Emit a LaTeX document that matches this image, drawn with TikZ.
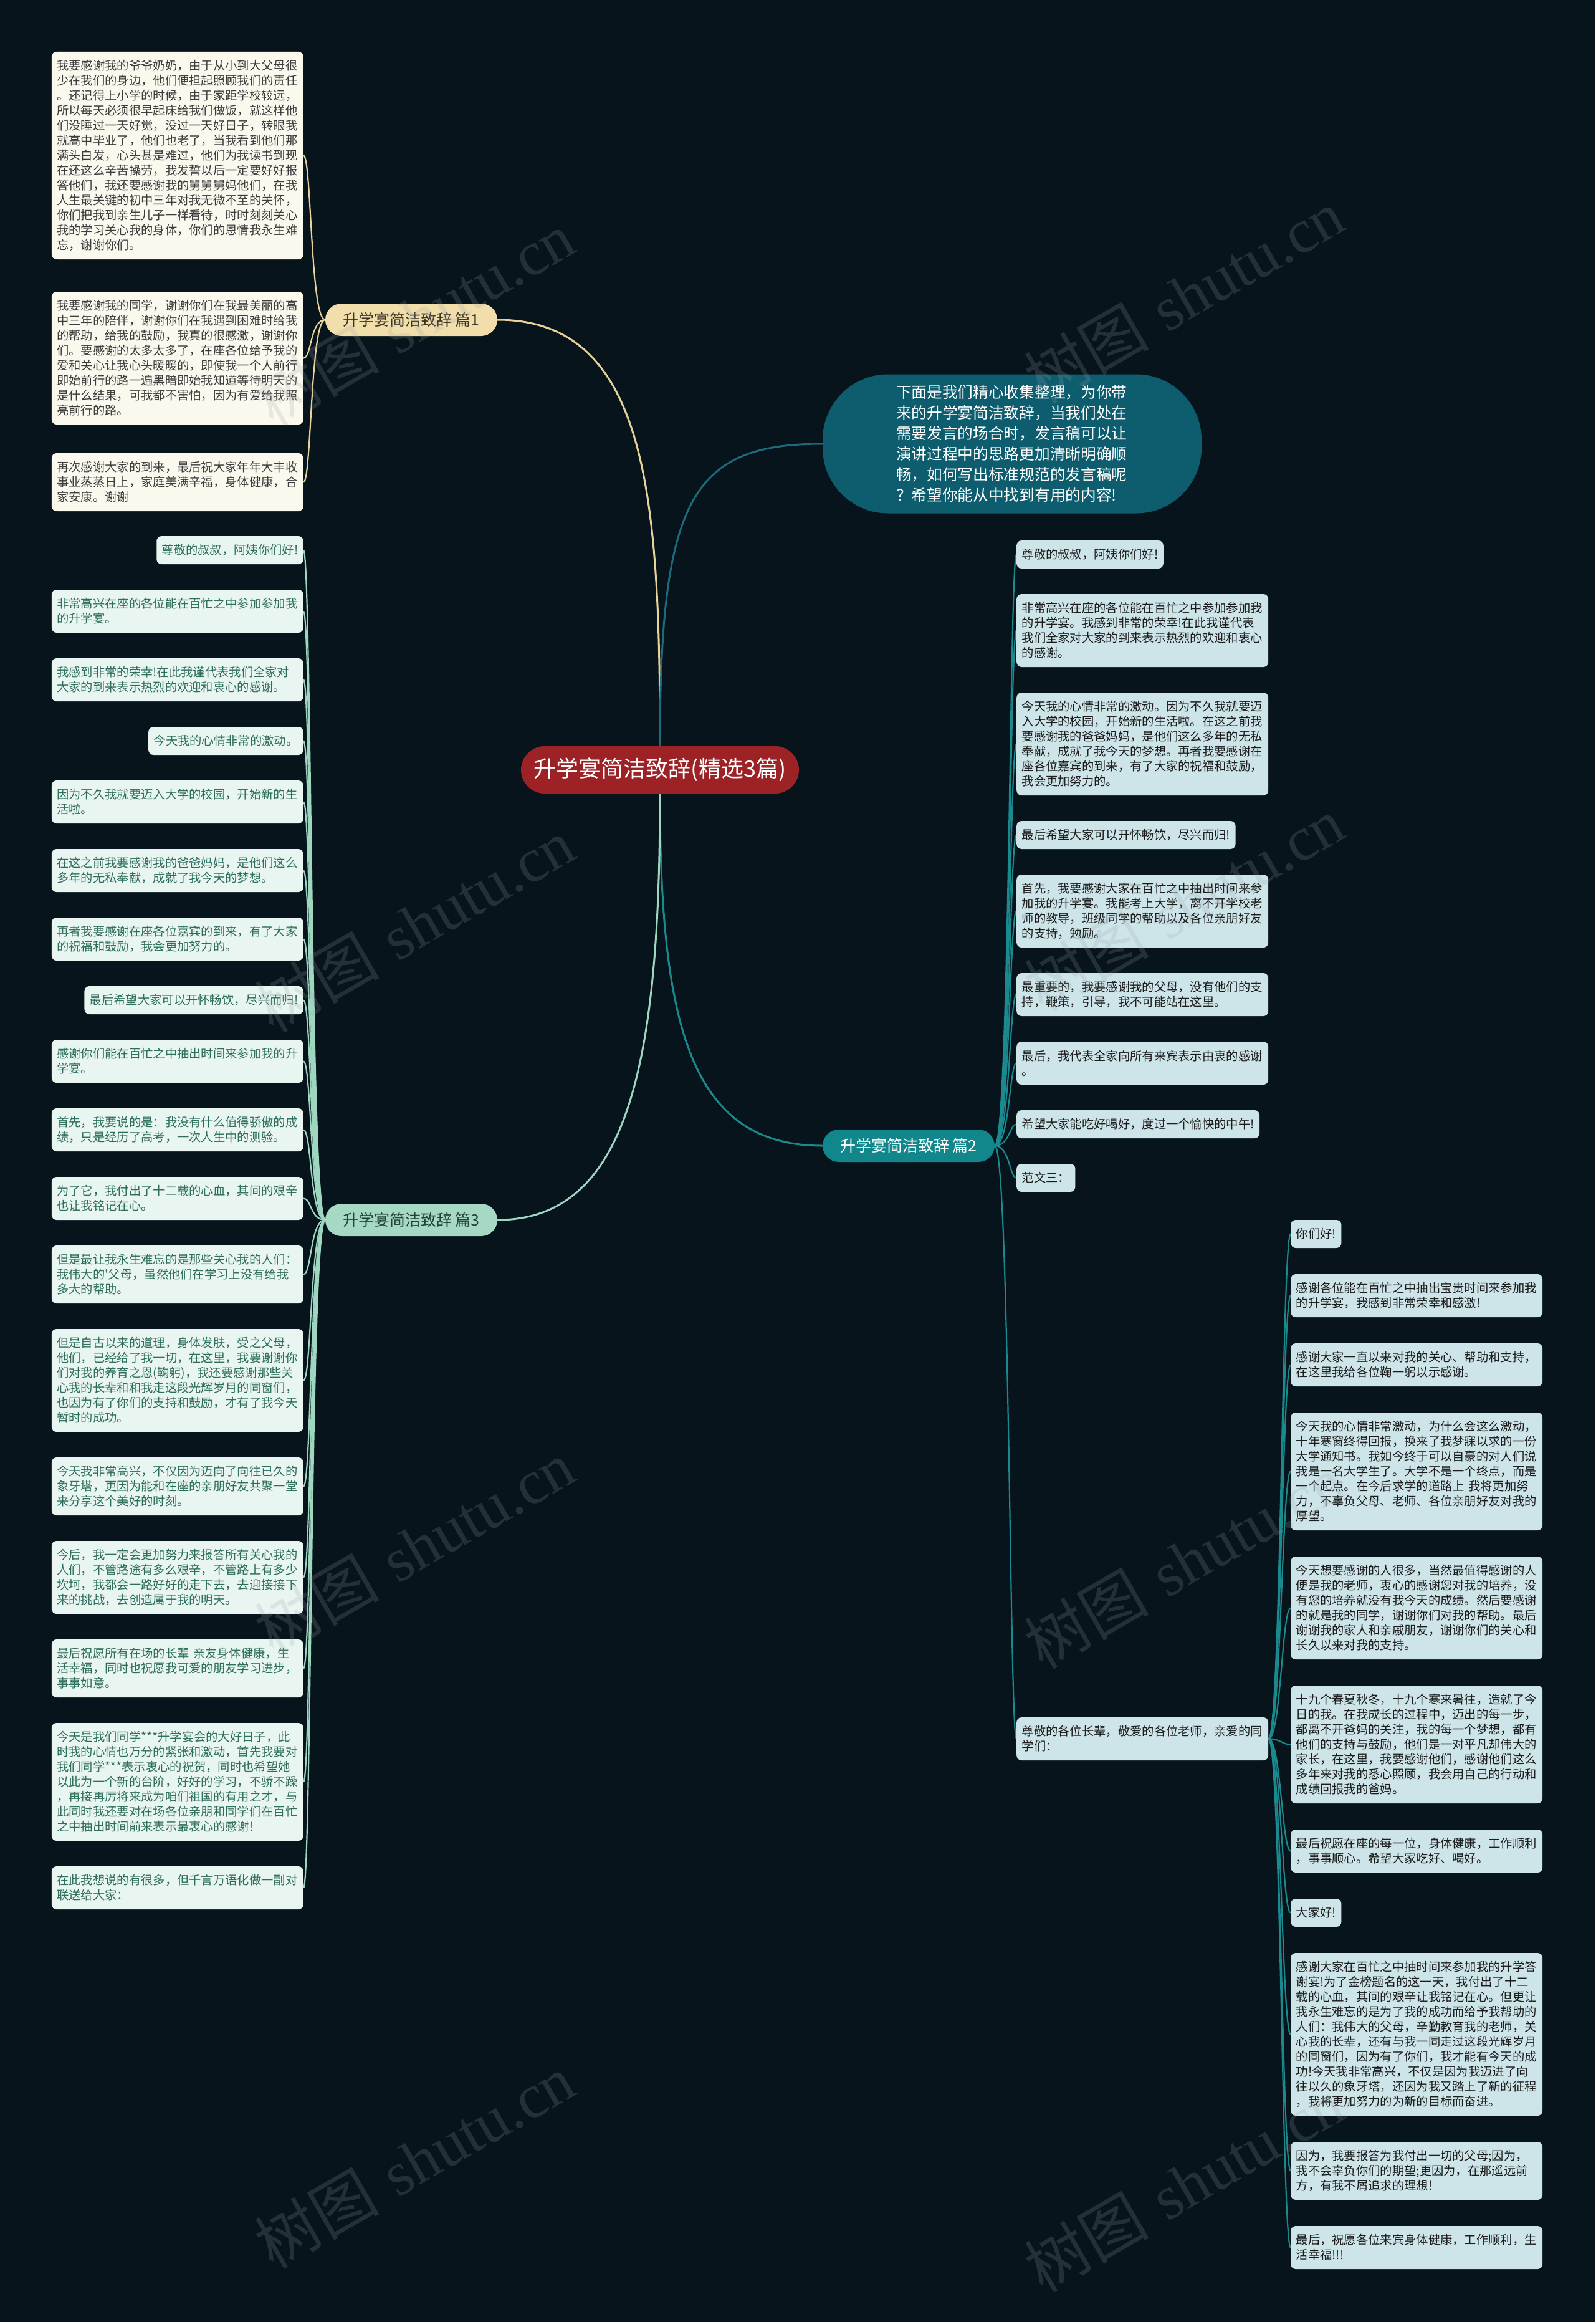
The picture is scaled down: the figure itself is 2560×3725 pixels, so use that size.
\documentclass[tikz,border=0pt]{standalone}
\usepackage{fontspec}
\newfontfamily\cjk{Noto Sans CJK SC}
\newfontfamily\wmserif{Liberation Serif}
\usetikzlibrary{backgrounds}
\definecolor{bgc}{HTML}{07141C}
\definecolor{ctrfill}{HTML}{9C2226}
\definecolor{pAfill}{HTML}{F1DEAA}
\definecolor{pAtext}{HTML}{3B3325}
\definecolor{pBfill}{HTML}{12878B}
\definecolor{pCfill}{HTML}{A5D9C3}
\definecolor{pCtext}{HTML}{23433A}
\definecolor{bubfill}{HTML}{0D5D6F}
\definecolor{fillA}{HTML}{FBF8EE}
\definecolor{textA}{HTML}{3C3C3C}
\definecolor{fillC}{HTML}{E8F5F0}
\definecolor{textC}{HTML}{2E6E5C}
\definecolor{fillB}{HTML}{CDE5E8}
\definecolor{textB}{HTML}{1C1C1C}
\definecolor{lineA}{HTML}{E6D39C}
\definecolor{lineC}{HTML}{9ED6C0}
\definecolor{lineB}{HTML}{1A8A8E}
\definecolor{lineBub}{HTML}{1C6A7A}
\definecolor{wmc}{HTML}{9AA3A8}
\begin{document}
\begin{tikzpicture}[x=1pt,y=-1pt,
  box/.style={rounded corners=8pt, inner xsep=8.5pt, inner ysep=0pt, font=\cjk\fontsize{19.3}{24}\selectfont, align=left},
  wide/.style={text width=387pt},
  nl/.style={minimum height={#1*24pt+21pt}},
  bA/.style={box, fill=fillA, text=textA, anchor=east},
  bC/.style={box, fill=fillC, text=textC, anchor=east},
  bB/.style={box, fill=fillB, text=textB, anchor=west},
  branch/.style={rounded corners=26pt, minimum width=276pt, minimum height=52pt, inner sep=0pt, font=\cjk\fontsize{25}{28}\selectfont},
  cA/.style={draw=lineA, line width=2.2pt},
  cC/.style={draw=lineC, line width=2.2pt},
  cB/.style={draw=lineB, line width=2.2pt},
  wm/.style={rotate=30, text=wmc, opacity=0.2, font=\fontsize{100}{100}\selectfont, inner sep=0pt}
]
\useasboundingbox (0,0) rectangle (2560,3725);

% central and branch nodes
\node[fill=ctrfill, text=white, rounded corners=38pt, minimum width=446pt, minimum height=76pt, inner sep=0pt, font=\cjk\fontsize{36}{40}\selectfont] (ctr) at (1059,1235) {升学宴简洁致辞(精选3篇)};
\node[branch, fill=pAfill, text=pAtext] (p1) at (660,513) {升学宴简洁致辞 篇1};
\node[branch, fill=pBfill, text=white] (p2) at (1458,1838) {升学宴简洁致辞 篇2};
\node[branch, fill=pCfill, text=pCtext] (p3) at (660,1957) {升学宴简洁致辞 篇3};
\node[fill=bubfill, text=white, rounded corners=105pt, minimum width=608pt, minimum height=223pt, inner sep=0pt, text width=372pt, align=left, font=\cjk\fontsize{24.7}{33}\selectfont] (bub) at (1624,712) {下面是我们精心收集整理，为你带\\来的升学宴简洁致辞，当我们处在\\需要发言的场合时，发言稿可以让\\演讲过程中的思路更加清晰明确顺\\畅，如何写出标准规范的发言稿呢\\？希望你能从中找到有用的内容!};

% branch 1 children
\node[bA, wide, nl=13] (a1) at (487,249.5) {我要感谢我的爷爷奶奶，由于从小到大父母很\\少在我们的身边，他们便担起照顾我们的责任\\。还记得上小学的时候，由于家距学校较远，\\所以每天必须很早起床给我们做饭，就这样他\\们没睡过一天好觉，没过一天好日子，转眼我\\就高中毕业了，他们也老了，当我看到他们那\\满头白发，心头甚是难过，他们为我读书到现\\在还这么辛苦操劳，我发誓以后一定要好好报\\答他们，我还要感谢我的舅舅舅妈他们，在我\\人生最关键的初中三年对我无微不至的关怀，\\你们把我到亲生儿子一样看待，时时刻刻关心\\我的学习关心我的身体，你们的恩情我永生难\\忘，谢谢你们。};
\node[bA, wide, nl=8] (a2) at (487,574.5) {我要感谢我的同学，谢谢你们在我最美丽的高\\中三年的陪伴，谢谢你们在我遇到困难时给我\\的帮助，给我的鼓励，我真的很感激，谢谢你\\们。要感谢的太多太多了，在座各位给予我的\\爱和关心让我心头暖暖的，即使我一个人前行\\即始前行的路一遍黑暗即始我知道等待明天的\\是什么结果，可我都不害怕，因为有爱给我照\\亮前行的路。};
\node[bA, wide, nl=3] (a3) at (487,773.5) {再次感谢大家的到来，最后祝大家年年大丰收\\事业蒸蒸日上，家庭美满辛福，身体健康，合\\家安康。谢谢};

% branch 3 children
\node[bC, nl=1] (b1) at (487,882.5) {尊敬的叔叔，阿姨你们好!};
\node[bC, wide, nl=2] (b2) at (487,980.5) {非常高兴在座的各位能在百忙之中参加参加我\\的升学宴。};
\node[bC, wide, nl=2] (b3) at (487,1090.5) {我感到非常的荣幸!在此我谨代表我们全家对\\大家的到来表示热烈的欢迎和衷心的感谢。};
\node[bC, nl=1] (b4) at (487,1188.5) {今天我的心情非常的激动。};
\node[bC, wide, nl=2] (b5) at (487,1286.5) {因为不久我就要迈入大学的校园，开始新的生\\活啦。};
\node[bC, wide, nl=2] (b6) at (487,1396.5) {在这之前我要感谢我的爸爸妈妈，是他们这么\\多年的无私奉献，成就了我今天的梦想。};
\node[bC, wide, nl=2] (b7) at (487,1506.5) {再者我要感谢在座各位嘉宾的到来，有了大家\\的祝福和鼓励，我会更加努力的。};
\node[bC, nl=1] (b8) at (487,1604.5) {最后希望大家可以开怀畅饮，尽兴而归!};
\node[bC, wide, nl=2] (b9) at (487,1702.5) {感谢你们能在百忙之中抽出时间来参加我的升\\学宴。};
\node[bC, wide, nl=2] (b10) at (487,1812.5) {首先，我要说的是：我没有什么值得骄傲的成\\绩，只是经历了高考，一次人生中的测验。};
\node[bC, wide, nl=2] (b11) at (487,1922.5) {为了它，我付出了十二载的心血，其间的艰辛\\也让我铭记在心。};
\node[bC, wide, nl=3] (b12) at (487,2044.5) {但是最让我永生难忘的是那些关心我的人们：\\我伟大的'父母，虽然他们在学习上没有给我\\多大的帮助。};
\node[bC, wide, nl=6] (b13) at (487,2214.5) {但是自古以来的道理，身体发肤，受之父母，\\他们，已经给了我一切，在这里，我要谢谢你\\们对我的养育之恩(鞠躬)，我还要感谢那些关\\心我的长辈和和我走这段光辉岁月的同窗们，\\也因为有了你们的支持和鼓励，才有了我今天\\暂时的成功。};
\node[bC, wide, nl=3] (b14) at (487,2384.5) {今天我非常高兴，不仅因为迈向了向往已久的\\象牙塔，更因为能和在座的亲朋好友共聚一堂\\来分享这个美好的时刻。};
\node[bC, wide, nl=4] (b15) at (487,2530.5) {今后，我一定会更加努力来报答所有关心我的\\人们，不管路途有多么艰辛，不管路上有多少\\坎坷，我都会一路好好的走下去，去迎接接下\\来的挑战，去创造属于我的明天。};
\node[bC, wide, nl=3] (b16) at (487,2676.5) {最后祝愿所有在场的长辈 亲友身体健康，生\\活幸福，同时也祝愿我可爱的朋友学习进步，\\事事如意。};
\node[bC, wide, nl=7] (b17) at (487,2858.5) {今天是我们同学***升学宴会的大好日子，此\\时我的心情也万分的紧张和激动，首先我要对\\我们同学***表示衷心的祝贺，同时也希望她\\以此为一个新的台阶，好好的学习，不骄不躁\\，再接再厉将来成为咱们祖国的有用之才，与\\此同时我还要对在场各位亲朋和同学们在百忙\\之中抽出时间前来表示最衷心的感谢!};
\node[bC, wide, nl=2] (b18) at (487,3028.5) {在此我想说的有很多，但千言万语化做一副对\\联送给大家：};

% branch 2 children
\node[bB, nl=1] (c1) at (1631,889.5) {尊敬的叔叔，阿姨你们好!};
\node[bB, wide, nl=4] (c2) at (1631,1011.5) {非常高兴在座的各位能在百忙之中参加参加我\\的升学宴。我感到非常的荣幸!在此我谨代表\\我们全家对大家的到来表示热烈的欢迎和衷心\\的感谢。};
\node[bB, wide, nl=6] (c3) at (1631,1193.5) {今天我的心情非常的激动。因为不久我就要迈\\入大学的校园，开始新的生活啦。在这之前我\\要感谢我的爸爸妈妈，是他们这么多年的无私\\奉献，成就了我今天的梦想。再者我要感谢在\\座各位嘉宾的到来，有了大家的祝福和鼓励，\\我会更加努力的。};
\node[bB, nl=1] (c4) at (1631,1339.5) {最后希望大家可以开怀畅饮，尽兴而归!};
\node[bB, wide, nl=4] (c5) at (1631,1461.5) {首先，我要感谢大家在百忙之中抽出时间来参\\加我的升学宴。我能考上大学，离不开学校老\\师的教导，班级同学的帮助以及各位亲朋好友\\的支持，勉励。};
\node[bB, wide, nl=2] (c6) at (1631,1595.5) {最重要的，我要感谢我的父母，没有他们的支\\持，鞭策，引导，我不可能站在这里。};
\node[bB, wide, nl=2] (c7) at (1631,1705.5) {最后，我代表全家向所有来宾表示由衷的感谢\\。};
\node[bB, nl=1] (c8) at (1631,1803.5) {希望大家能吃好喝好，度过一个愉快的中午!};
\node[bB, nl=1] (c9) at (1631,1889.5) {范文三：};
\node[bB, wide, nl=2] (c10) at (1631,2789.5) {尊敬的各位长辈，敬爱的各位老师，亲爱的同\\学们：};

% sub-children of c10
\node[bB, nl=1] (d1) at (2071,1979.5) {你们好!};
\node[bB, wide, nl=2] (d2) at (2071,2078.5) {感谢各位能在百忙之中抽出宝贵时间来参加我\\的升学宴，我感到非常荣幸和感激!};
\node[bB, wide, nl=2] (d3) at (2071,2189.5) {感谢大家一直以来对我的关心、帮助和支持，\\在这里我给各位鞠一躬以示感谢。};
\node[bB, wide, nl=7] (d4) at (2071,2360.5) {今天我的心情非常激动，为什么会这么激动，\\十年寒窗终得回报，换来了我梦寐以求的一份\\大学通知书。我如今终于可以自豪的对人们说\\我是一名大学生了。大学不是一个终点，而是\\一个起点。在今后求学的道路上 我将更加努\\力，不辜负父母、老师、各位亲朋好友对我的\\厚望。};
\node[bB, wide, nl=6] (d5) at (2071,2579.5) {今天想要感谢的人很多，当然最值得感谢的人\\便是我的老师，衷心的感谢您对我的培养，没\\有您的培养就没有我今天的成绩。然后要感谢\\的就是我的同学，谢谢你们对我的帮助。最后\\谢谢我的家人和亲戚朋友，谢谢你们的关心和\\长久以来对我的支持。};
\node[bB, wide, nl=7] (d6) at (2071,2798.5) {十九个春夏秋冬，十九个寒来暑往，造就了今\\日的我。在我成长的过程中，迈出的每一步，\\都离不开爸妈的关注，我的每一个梦想，都有\\他们的支持与鼓励，他们是一对平凡却伟大的\\家长，在这里，我要感谢他们，感谢他们这么\\多年来对我的悉心照顾，我会用自己的行动和\\成绩回报我的爸妈。};
\node[bB, wide, nl=2] (d7) at (2071,2969.5) {最后祝愿在座的每一位，身体健康，工作顺利\\，事事顺心。希望大家吃好、喝好。};
\node[bB, nl=1] (d8) at (2071,3068.5) {大家好!};
\node[bB, wide, nl=10] (d9) at (2071,3263.5) {感谢大家在百忙之中抽时间来参加我的升学答\\谢宴!为了金榜题名的这一天，我付出了十二\\载的心血，其间的艰辛让我铭记在心。但更让\\我永生难忘的是为了我的成功而给予我帮助的\\人们：我伟大的父母，辛勤教育我的老师，关\\心我的长辈，还有与我一同走过这段光辉岁月\\的同窗们，因为有了你们，我才能有今天的成\\功!今天我非常高兴，不仅是因为我迈进了向\\往以久的象牙塔，还因为我又踏上了新的征程\\，我将更加努力的为新的目标而奋进。};
\node[bB, wide, nl=3] (d10) at (2071,3482.5) {因为，我要报答为我付出一切的父母;因为，\\我不会辜负你们的期望;更因为，在那遥远前\\方，有我不屑追求的理想!};
\node[bB, wide, nl=2] (d11) at (2071,3605.5) {最后，祝愿各位来宾身体健康，工作顺利，生\\活幸福!!!};

\begin{scope}[on background layer]
\fill[bgc] (0,0) rectangle (2560,3725);
% main connectors
\draw[draw=lineA, line width=3pt] (ctr.north) .. controls (1059,800) and (1040,513) .. (p1.east);
\draw[draw=lineBub, line width=3pt] (ctr.north) .. controls (1059,800) and (1110,712) .. (bub.west);
\draw[draw=lineB, line width=3pt] (ctr.south) .. controls (1059,1650) and (1110,1838) .. (p2.west);
\draw[draw=lineC, line width=3pt] (ctr.south) .. controls (1059,1700) and (1010,1957) .. (p3.east);
% branch 1
\foreach \n in {a1,a2,a3}
  \draw[cA] (p1.west) .. controls +(-24,0) and +(13,0) .. (\n.east);
% branch 3
\foreach \n in {b1,b2,b3,b4,b5,b6,b7,b8,b9,b10,b11,b12,b13,b14,b15,b16,b17,b18}
  \draw[cC] (p3.west) .. controls +(-24,0) and +(13,0) .. (\n.east);
% branch 2
\foreach \n in {c1,c2,c3,c4,c5,c6,c7,c8,c9,c10}
  \draw[cB] (p2.east) .. controls +(24,0) and +(-11,0) .. (\n.west);
% sub-branch
\foreach \n in {d1,d2,d3,d4,d5,d6,d7,d8,d9,d10,d11}
  \draw[cB] (c10.east) .. controls +(20,0) and +(-14,0) .. (\n.west);
\end{scope}

% watermarks
\node[wm] (w1) at (665,511) {{\cjk 树图} {\wmserif shutu.cn}};
\node[wm] (w2) at (1900,475) {{\cjk 树图} {\wmserif shutu.cn}};
\node[wm] (w3) at (665,1484) {{\cjk 树图} {\wmserif shutu.cn}};
\node[wm] (w4) at (1900,1450) {{\cjk 树图} {\wmserif shutu.cn}};
\node[wm] (w5) at (665,2482) {{\cjk 树图} {\wmserif shutu.cn}};
\node[wm] (w6) at (1900,2505) {{\cjk 树图} {\wmserif shutu.cn}};
\node[wm] (w7) at (665,3467) {{\cjk 树图} {\wmserif shutu.cn}};
\node[wm] (w8) at (1900,3505) {{\cjk 树图} {\wmserif shutu.cn}};
\end{tikzpicture}
\end{document}
